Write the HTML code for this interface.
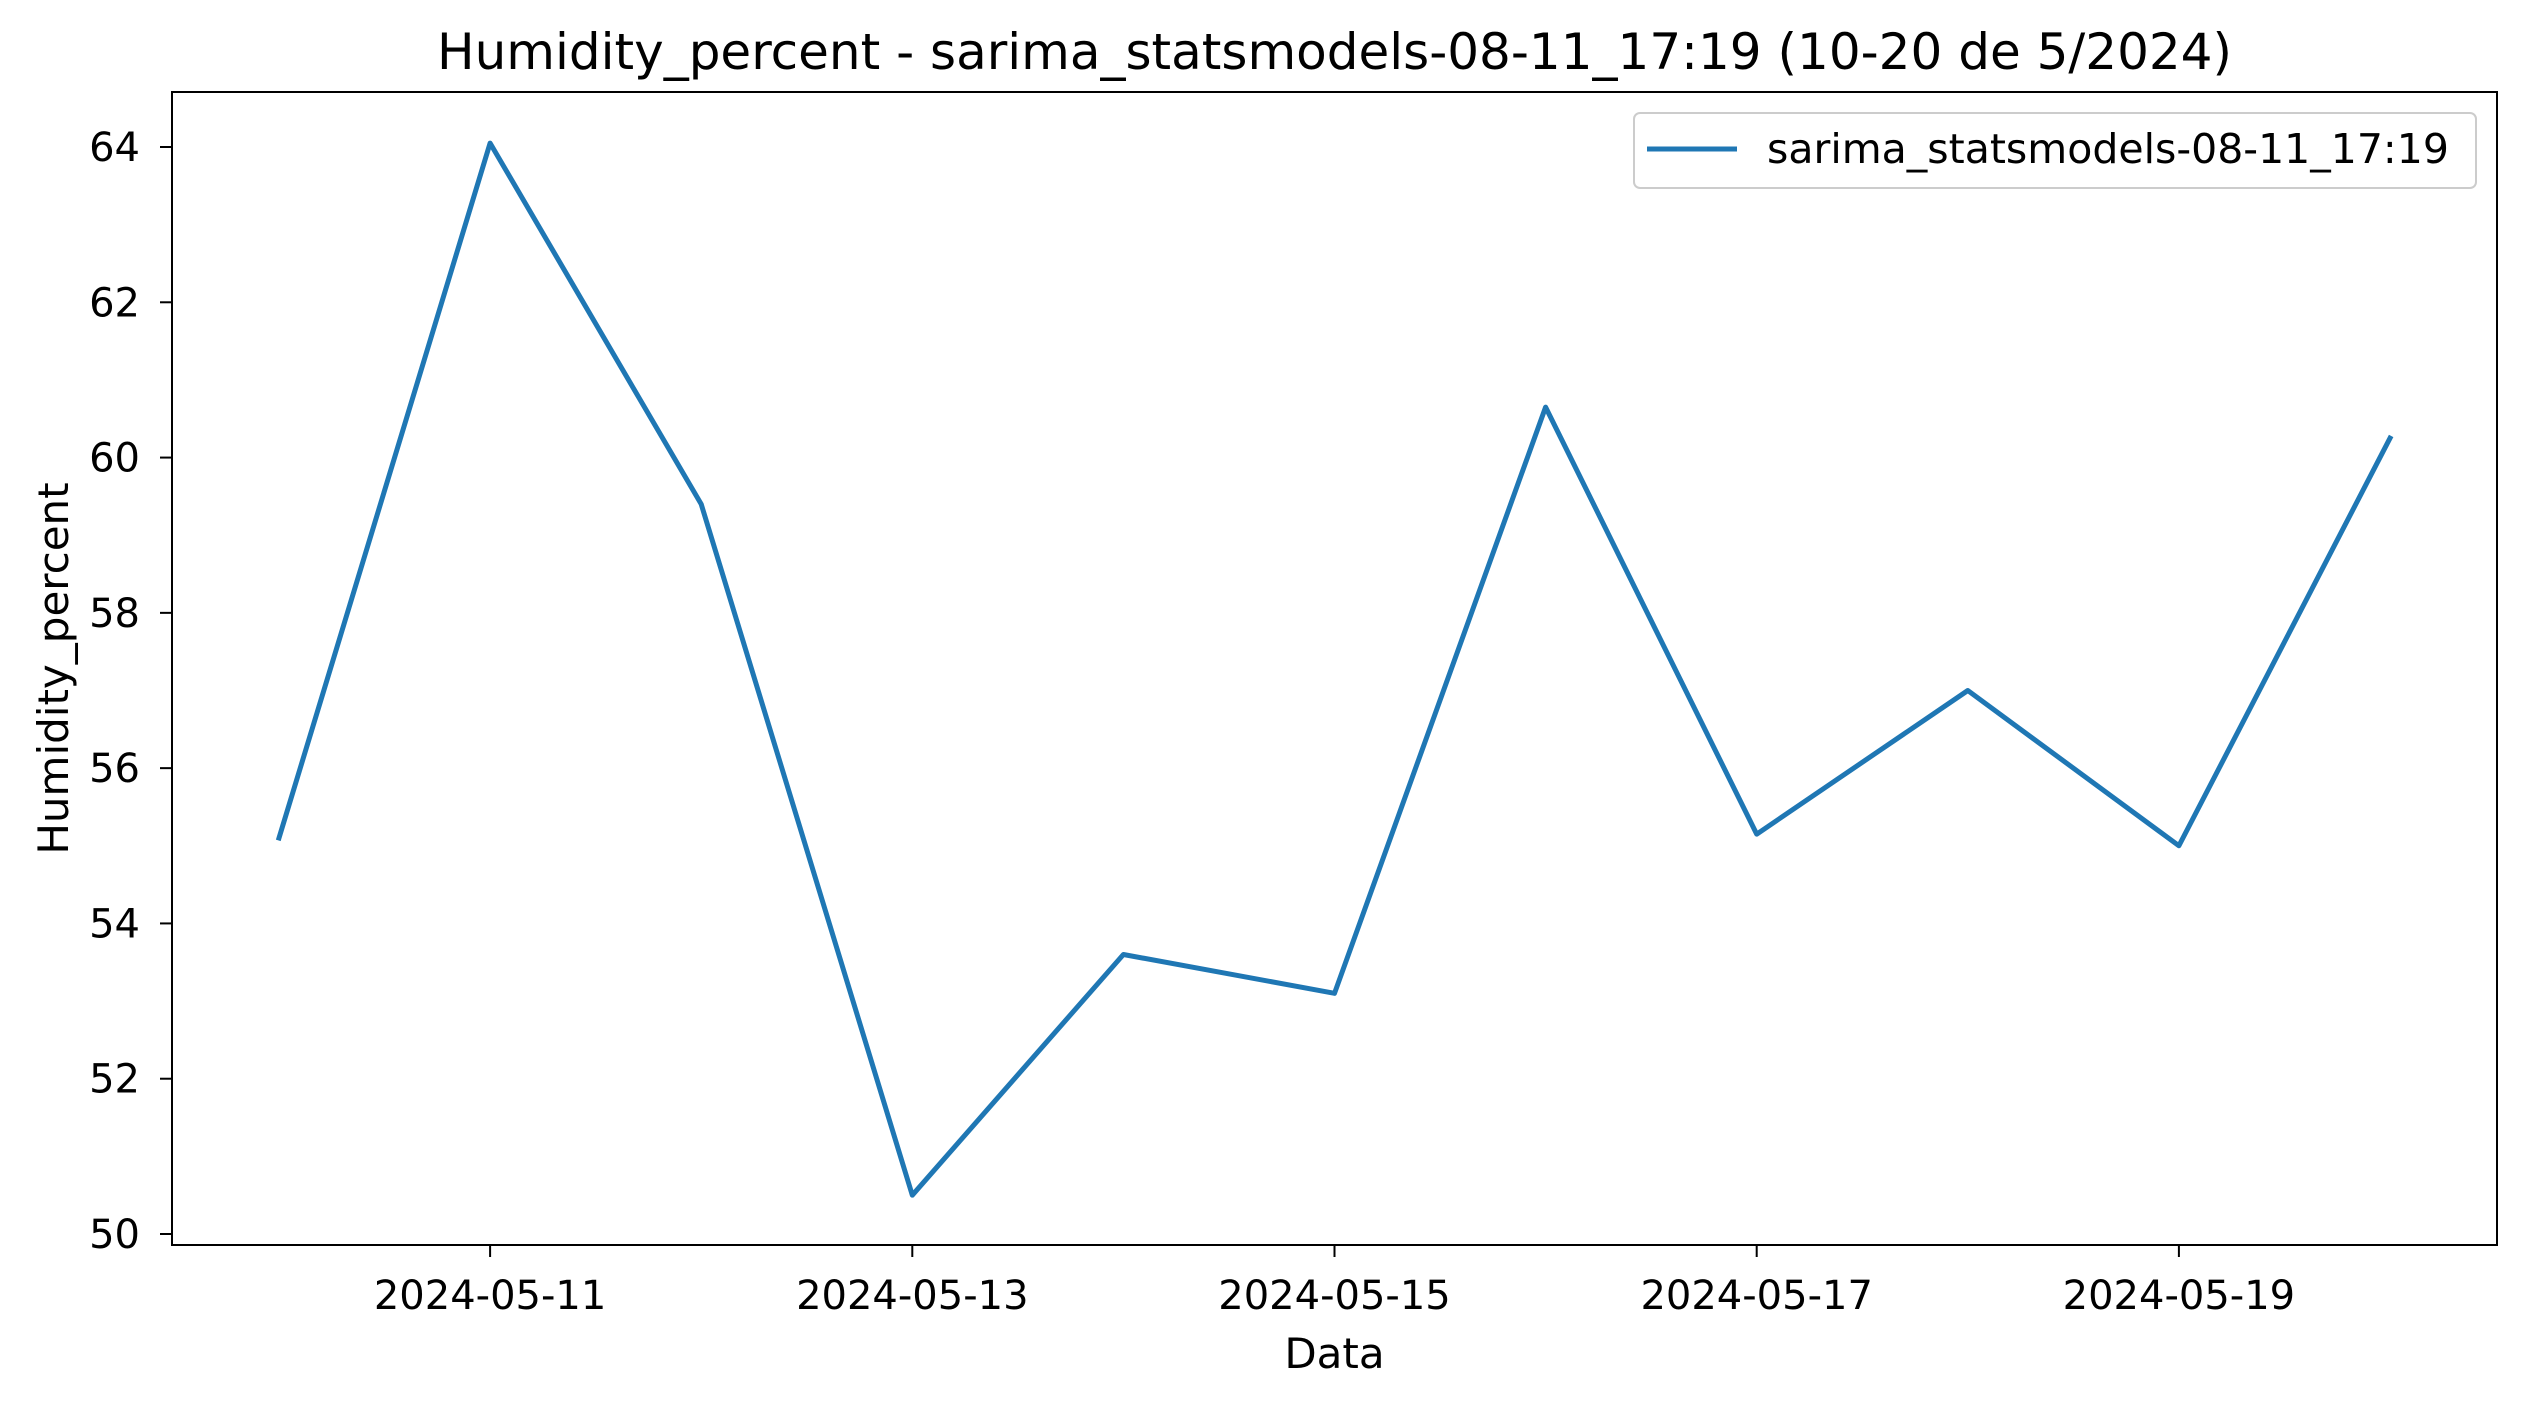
<!DOCTYPE html>
<html><head><meta charset="utf-8"><style>
body{margin:0;background:#fff;}
svg text{font-family:"DejaVu Sans","Liberation Sans",sans-serif;fill:#000;}
</style></head><body>
<svg width="2526" height="1407" viewBox="0 0 2526 1407">
<rect width="2526" height="1407" fill="#fff"/>
<g id="ax"></g>
</svg>
<script>
const categories=["2024-05-10","2024-05-11","2024-05-12","2024-05-13","2024-05-14","2024-05-15","2024-05-16","2024-05-17","2024-05-18","2024-05-19","2024-05-20"];
const seriesValues=[55.1,64.05,59.4,50.5,53.6,53.1,60.65,55.15,57.0,55.0,60.25];
const yTicks=[50,52,54,56,58,60,62,64];
const xTickLabels=["2024-05-11","2024-05-13","2024-05-15","2024-05-17","2024-05-19"];
const xTickIdx=[1,3,5,7,9];
const L=172,R=2497,T=92,B=1245;
const x=i=>279+i*211.1;
const y=v=>1234-(v-50)*(1234-147)/14;
const NS="http://www.w3.org/2000/svg";
const g=document.getElementById('ax');
function mk(t,a,p){const e=document.createElementNS(NS,t);for(const k in a)e.setAttribute(k,a[k]);(p||g).appendChild(e);return e;}
const title=mk('text',{x:(L+R)/2,y:69,'text-anchor':'middle','font-size':50});
title.textContent="Humidity_percent - sarima_statsmodels-08-11_17:19 (10-20 de 5/2024)";


yTicks.forEach(v=>{
 const l=mk('line',{x1:L-12,x2:L,y1:y(v),y2:y(v),stroke:'#000','stroke-width':2});
 
 
 const t=mk('text',{x:140,y:y(v)+14,'text-anchor':'end','font-size':40});
 t.textContent=v;
 
 
});
xTickIdx.forEach((idx,k)=>{
 const l=mk('line',{x1:x(idx),x2:x(idx),y1:B,y2:B+12,stroke:'#000','stroke-width':2});
 
 
 const t=mk('text',{x:x(idx),y:1309,'text-anchor':'middle','font-size':40});
 t.textContent=xTickLabels[k];
 
 
});
const pts=seriesValues.map((v,i)=>x(i)+','+y(v)).join(' ');
const line=mk('polyline',{points:pts,fill:'none',stroke:'#1f77b4','stroke-width':5,'stroke-linejoin':'round','stroke-linecap':'square'});


const frame=mk('rect',{x:L,y:T,width:R-L,height:B-T,fill:'none',stroke:'#000','stroke-width':2});


const xt=mk('text',{x:(L+R)/2,y:1368,'text-anchor':'middle','font-size':42});
xt.textContent="Data";


const yt=mk('text',{x:0,y:0,'text-anchor':'middle','font-size':42,transform:'translate(68,'+((T+B)/2)+') rotate(-90)'});
yt.textContent="Humidity_percent";


const lg=mk('g',{});


mk('rect',{x:1634,y:113,width:842,height:75,rx:6,fill:'#fff',stroke:'#ccc','stroke-width':2},lg);
mk('line',{x1:1647,x2:1737,y1:149,y2:149,stroke:'#1f77b4','stroke-width':5},lg);
const lt=mk('text',{x:1767,y:163,'font-size':41},lg);
lt.textContent="sarima_statsmodels-08-11_17:19";


</script>
</body></html>
